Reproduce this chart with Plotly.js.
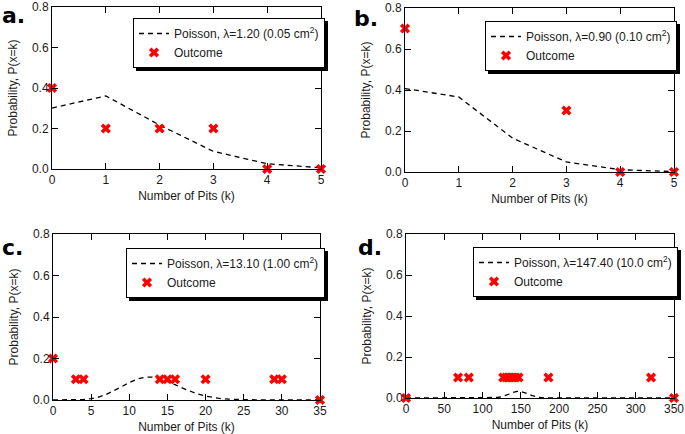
<!DOCTYPE html>
<html>
<head>
<meta charset="utf-8">
<script src="https://cdn.plot.ly/plotly-3.0.1.min.js"></script>
<style>
  body { margin: 0; background: #fff; }
  #chart { width: 685px; height: 434px; }
</style>
</head>
<body>
<div id="chart"></div>
<script>
// panel a: lambda = 1.20 (0.05 cm2)
var kA = [0, 1, 2, 3, 4, 5];
var poisA = [0.301, 0.361, 0.217, 0.087, 0.026, 0.006];
var outA = [0.4, 0.2, 0.2, 0.2, 0, 0];

// panel b: lambda = 0.90 (0.10 cm2)
var kB = [0, 1, 2, 3, 4, 5];
var poisB = [0.407, 0.366, 0.165, 0.049, 0.011, 0.002];
var outKB = [0, 3, 4, 5];
var outB = [0.7, 0.3, 0, 0];

// panel c: lambda = 13.10 (1.00 cm2)
var kC = [0, 1, 2, 3, 4, 5, 6, 7, 8, 9, 10, 11, 12, 13, 14, 15, 16, 17,
          18, 19, 20, 21, 22, 23, 24, 25, 26, 27, 28, 29, 30, 31, 32, 33, 34, 35];
var poisC = [0, 0, 0.0002, 0.0008, 0.0025, 0.0066, 0.0144, 0.027, 0.0442, 0.0643,
             0.0842, 0.1003, 0.1095, 0.1103, 0.1032, 0.0902, 0.0738, 0.0569, 0.0414,
             0.0285, 0.0187, 0.0117, 0.0069, 0.004, 0.0022, 0.0011, 0.0006, 0.0003,
             0.0001, 0, 0, 0, 0, 0, 0, 0];
var outKC = [0, 3, 4, 14, 15, 16, 20, 29, 30, 35];
var outC = [0.2, 0.1, 0.1, 0.1, 0.1, 0.1, 0.1, 0.1, 0.1, 0];

// panel d: lambda = 147.40 (10.0 cm2)
var kD = [0, 100, 105, 110, 115, 120, 125, 130, 135, 140, 145, 150, 155, 160,
          165, 170, 175, 180, 185, 190, 195, 350];
var poisD = [0, 0, 0.0001, 0.0003, 0.0009, 0.0026, 0.006, 0.0118, 0.0195, 0.0273,
             0.0323, 0.0322, 0.027, 0.0192, 0.0115, 0.0058, 0.0025, 0.0009, 0.0003,
             0.0001, 0, 0];
var outKD = [0, 68, 82, 127, 131, 135, 139, 143, 147, 186, 320, 350];
var outD = [0, 0.1, 0.1, 0.1, 0.1, 0.1, 0.1, 0.1, 0.1, 0.1, 0.1, 0];

var legendNames = [
  'Poisson, \u03bb=1.20 (0.05 cm<sup>2</sup>)',
  'Poisson, \u03bb=0.90 (0.10 cm<sup>2</sup>)',
  'Poisson, \u03bb=13.10 (1.00 cm<sup>2</sup>)',
  'Poisson, \u03bb=147.40 (10.0 cm<sup>2</sup>)'
];

var panels = [
  {k: kA, p: poisA, ok: kA, o: outA},
  {k: kB, p: poisB, ok: outKB, o: outB},
  {k: kC, p: poisC, ok: outKC, o: outC},
  {k: kD, p: poisD, ok: outKD, o: outD}
];

var data = [];
panels.forEach(function (pn, i) {
  var n = i === 0 ? '' : String(i + 1);
  data.push({
    x: pn.k, y: pn.p, mode: 'lines', name: legendNames[i],
    xaxis: 'x' + n, yaxis: 'y' + n, legend: 'legend' + n,
    line: {color: '#000', width: 1.3, dash: '5px,4px'},
    cliponaxis: false
  });
  data.push({
    x: pn.ok, y: pn.o, mode: 'markers', name: 'Outcome',
    xaxis: 'x' + n, yaxis: 'y' + n, legend: 'legend' + n,
    marker: {symbol: 'x', color: '#ff0000', size: 9, line: {width: 0}},
    cliponaxis: false
  });
});

var W = 685, H = 434;
function xd(a, b) { return [a / W, b / W]; }
function yd(top, bot) { return [1 - bot / H, 1 - top / H]; }

var font = {family: 'Liberation Sans, Arial, sans-serif', size: 12, color: '#1a1a1a'};

function xax(dom, range, dtick, anchor) {
  return {
    domain: dom, range: range, dtick: dtick, anchor: anchor,
    showline: true, linecolor: '#000', linewidth: 1, mirror: 'ticks',
    ticks: 'inside', ticklen: 6, tickcolor: '#000', tickwidth: 1,
    showgrid: false, zeroline: false, tickfont: {size: 12},
    ticklabeloverflow: 'allow',
    title: {text: 'Number of Pits (k)', font: {size: 12}, standoff: 5}
  };
}
function yax(dom, anchor) {
  return {
    domain: dom, range: [0, 0.8], dtick: 0.2, tickformat: '.1f', anchor: anchor,
    showline: true, linecolor: '#000', linewidth: 1, mirror: 'ticks',
    ticks: 'inside', ticklen: 6, tickcolor: '#000', tickwidth: 1,
    showgrid: false, zeroline: false, tickfont: {size: 12},
    ticklabeloverflow: 'allow',
    title: {text: 'Probability, P(x=k)', font: {size: 12}, standoff: 11}
  };
}

function leg(x, y) {
  return {
    x: x / W, y: 1 - y / H, xanchor: 'left', yanchor: 'top',
    bgcolor: '#fff', bordercolor: '#000', borderwidth: 1,
    font: {size: 12}, tracegroupgap: 0
  };
}

var labelFont = {family: 'DejaVu Sans, sans-serif', size: 22, color: '#000', weight: 700};
function lab(t, x, y) {
  return {text: '<b>' + t + '</b>', x: x / W, y: 1 - y / H, xref: 'paper', yref: 'paper',
          xanchor: 'left', yanchor: 'middle', showarrow: false, font: labelFont};
}

var legendIds = ['legend', 'legend2', 'legend3', 'legend4'];

var layout = {
  width: W, height: H,
  margin: {l: 0, r: 0, t: 0, b: 0},
  paper_bgcolor: '#fff', plot_bgcolor: '#fff',
  font: font,
  showlegend: true,
  xaxis: xax(xd(52, 321), [0, 5], 1, 'y'),
  yaxis: yax(yd(7, 169), 'x'),
  xaxis2: xax(xd(405, 674), [0, 5], 1, 'y2'),
  yaxis2: yax(yd(8, 172), 'x2'),
  xaxis3: xax(xd(53, 320), [0, 35], 5, 'y3'),
  yaxis3: yax(yd(234, 400), 'x3'),
  xaxis4: xax(xd(406, 674), [0, 350], 50, 'y4'),
  yaxis4: yax(yd(234, 398), 'x4'),
  legend: leg(133, 18),
  legend2: leg(485, 21),
  legend3: leg(126, 248),
  legend4: leg(473, 247),
  annotations: [
    lab('a.', 0, 15),
    lab('b.', 352, 18),
    lab('c.', 0, 247),
    lab('d.', 356, 247)
  ]
};

// drop shadow behind each legend box, like the original figure
function shadowRect(x0, y0, w, h) {
  return {type: 'rect', xref: 'paper', yref: 'paper', layer: 'above',
    x0: (x0 + 3) / W, x1: (x0 + w + 3) / W,
    y0: 1 - (y0 + h + 3) / H, y1: 1 - (y0 + 3) / H,
    fillcolor: '#000', line: {width: 0}};
}

function addShadows(gd) {
  var shapes = [];
  var fl = gd._fullLayout || {};
  legendIds.forEach(function (id) {
    var L = fl[id];
    if (!L) return;
    var w = L._width, h = L._effHeight || L._height;
    if (!w || !h) return;
    shapes.push(shadowRect(L.x * W, (1 - L.y) * H, w, h));
  });
  if (!shapes.length) {
    var root = gd.getBoundingClientRect();
    gd.querySelectorAll('g[class^="legend"] rect.bg, g.legend rect.bg').forEach(function (r) {
      var b = r.getBoundingClientRect();
      if (b.width < 20) return;
      shapes.push(shadowRect(b.left - root.left, b.top - root.top, b.width, b.height));
    });
  }
  if (shapes.length) return Plotly.relayout(gd, {shapes: shapes});
}

Plotly.newPlot('chart', data, layout, {displayModeBar: false, staticPlot: true}).then(addShadows);
</script>
</body>
</html>
